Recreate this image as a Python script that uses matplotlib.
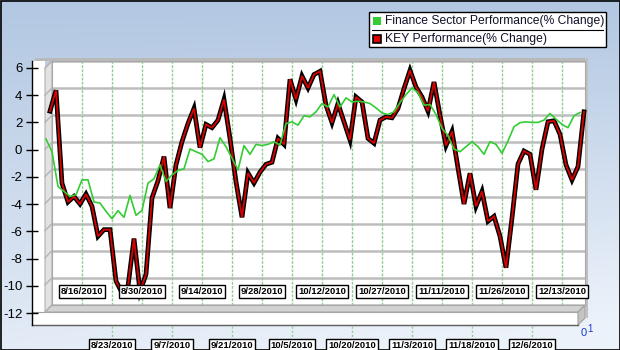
import numpy as np
import matplotlib.pyplot as plt
from matplotlib.patches import Polygon, Rectangle
import matplotlib.transforms as mtransforms

plt.rcParams['font.family'] = ['Liberation Sans', 'DejaVu Sans']
plt.rcParams['axes.unicode_minus'] = False

W, H = 620, 350

# date labels on the category axis (one every 5 points)
date_labels = ["8/16/2010", "8/23/2010", "8/30/2010", "9/7/2010", "9/14/2010",
               "9/21/2010", "9/28/2010", "10/5/2010", "10/12/2010", "10/20/2010",
               "10/27/2010", "11/3/2010", "11/11/2010", "11/18/2010", "11/26/2010",
               "12/6/2010", "12/13/2010"]
y_ticks = [6, 4, 2, 0, -2, -4, -6, -8, -10, -12]

key_perf = [2.30, 3.84, -3.01, -4.40, -3.99, -4.55, -3.82, -4.72, -6.93, -6.44,
            -6.44, -10.23, -11.1, -10.6, -7.1, -11.0, -9.74, -4.1, -2.84, -1.05,
            -4.85, -1.66, 0.05, 1.39, 2.5, -0.39, 1.32, 1.08, 1.64, 3.16,
            0.29, -2.9, -5.53, -2.27, -3.0, -2.2, -1.62, -1.47, 0.29, -0.15,
            4.65, 3.18, 4.89, 4.01, 5.0, 5.24, 2.74, 1.45, 2.86, 1.51,
            0.17, 3.35, 2.98, 0.29, -0.07, 1.64, 1.88, 1.81, 2.5, 3.96,
            5.31, 4.08, 3.35, 2.3, 4.45, 2.0, -0.24, 0.8, -1.9, -4.55,
            -2.28, -4.72, -3.62, -5.82, -5.46, -6.93, -9.25, -5.58, -1.6, -0.64,
            -0.88, -3.5, -0.5, 1.52, 1.59, 0.59, -1.66, -2.77, -1.79, 2.25]

finance_perf = [0.24, -0.69, -3.26, -3.62, -3.99, -3.87, -2.77, -2.77, -4.4, -4.48,
                -5.09, -5.63, -5.04, -5.53, -3.92, -5.38, -5.02, -3.01, -2.69, -1.66,
                -2.89, -2.4, -2.07, -1.96, -0.49, -0.69, -0.88, -1.42, -1.22, 0.34,
                -0.32, -1.17, -2.03, -0.24, -0.88, -0.15, -0.24, -0.15, 0.05, -0.2,
                1.39, 1.51, 1.27, 1.96, 1.88, 2.25, 2.86, 2.61, 3.52, 2.61,
                3.28, 2.98, 3.03, 2.98, 2.86, 2.54, 2.17, 2.05, 2.25, 2.93,
                3.52, 4.01, 3.67, 2.74, 2.79, 2.05, 1.03, 0.5, -0.5, -0.69,
                -0.32, 0.05, -0.32, -0.88, 0.05, -0.15, -0.81, 0.1, 1.15, 1.45,
                1.51, 1.47, 1.47, 1.64, 2.13, 1.71, 1.32, 1.08, 1.96, 2.2]

# layout of the fake 3D box, in pixels
WALL_L, WALL_R, WALL_T, WALL_B = 52, 585, 61, 305
DEPTH_X, DEPTH_Y = 7, 7
AXIS_X, FLOOR_FRONT = 32, 325
FIRST_X, STEP_X = 50, 6    # pixel x of first point, pixels per point
GREEN_SHIFT = -2 / 3       # front series drawn slightly left
GRID_OFFSET = 1 / 3


def fx(x):
    return x / W


def fy(y):
    return 1 - y / H


fig = plt.figure(figsize=(6.2, 3.5), dpi=100)

# background gradient and 3D decorations (pixel coordinates)
bg = fig.add_axes([0, 0, 1, 1])
t = np.linspace(0, 1, 200)[:, None]
s = np.linspace(0, 1, 300)[None, :]
mix = np.clip(0.85 * t + 0.25 * s * t, 0, 1)[..., None]
top = np.array([178, 199, 226]) / 255
bottom = np.array([236, 242, 250]) / 255
grad = top + (bottom - top) * mix
bg.imshow(grad, extent=[0, W, H, 0], aspect='auto')
bg.set_xlim(0, W)
bg.set_ylim(H, 0)
bg.axis('off')

# white frame of the box (left and bottom front faces)
bg.add_patch(Rectangle((AXIS_X, WALL_T), WALL_L - DEPTH_X - AXIS_X, FLOOR_FRONT - WALL_T,
                       fc='white', ec='none'))
bg.add_patch(Rectangle((AXIS_X, WALL_B + DEPTH_Y), WALL_R - DEPTH_X - AXIS_X,
                       FLOOR_FRONT - WALL_B - DEPTH_Y, fc='white', ec='#a0a0a0', lw=0.8))
# side wall
bg.add_patch(Polygon([(WALL_L - DEPTH_X, WALL_T + DEPTH_Y), (WALL_L, WALL_T),
                      (WALL_L, WALL_B), (WALL_L - DEPTH_X, WALL_B + DEPTH_Y)],
                     fc='#e2e2e2', ec='#b0b0b0', lw=0.8))
# floor
bg.add_patch(Polygon([(WALL_L - DEPTH_X, WALL_B + DEPTH_Y), (WALL_L, WALL_B),
                      (WALL_R, WALL_B), (WALL_R - DEPTH_X, WALL_B + DEPTH_Y)],
                     fc='#d2d2d2', ec='#a8a8a8', lw=0.8))
# right corner of floor front
bg.add_patch(Polygon([(WALL_R - DEPTH_X, WALL_B + DEPTH_Y), (WALL_R, WALL_B),
                      (WALL_R, WALL_B + 13), (WALL_R - DEPTH_X, FLOOR_FRONT)],
                     fc='#c4c4c4', ec='#a0a0a0', lw=0.8))
# top and right rims
bg.add_patch(Rectangle((35, WALL_T - 3), WALL_R - 35 + 3, 3, fc='#b9b9b9', ec='none'))
bg.add_patch(Rectangle((WALL_R, WALL_T - 3), 3, WALL_B - WALL_T + 16, fc='#c0c0c0', ec='none'))
bg.plot([AXIS_X, WALL_R - DEPTH_X], [FLOOR_FRONT, FLOOR_FRONT], color='#606060', lw=1)

# slanted grid lines on the side wall
px_per_unit = (WALL_B - WALL_T) / 18
for v in y_ticks:
    yy = WALL_T + (6 - v) * px_per_unit
    bg.plot([WALL_L - DEPTH_X, WALL_L], [yy + DEPTH_Y, yy], color='#b4b4b4', lw=1)

# legend
bg.add_patch(Rectangle((369, 12), 237, 35, fc='white', ec='black', lw=1))
bg.plot([372, 603], [29.5, 29.5], color='black', lw=0.8)
bg.add_patch(Rectangle((373, 17), 8, 8, fc='#33cc33', ec='none'))
bg.add_patch(Rectangle((373, 35), 8, 8, fc='#dd0000', ec='black', lw=1.2))
bg.text(385, 21, "Finance Sector Performance(% Change)", fontsize=8.7, va='center',
        color='#101028')
bg.text(385, 39, "KEY Performance(% Change)", fontsize=8.7, va='center', color='#101028')

# odd little marker at the bottom right corner
bg.text(581, 333, "0", fontsize=8, color='#1a3cc8', va='center')
bg.text(587, 329, "1", fontsize=7, color='#1a3cc8', va='center')

# figure border
bg.add_patch(Rectangle((0.5, 0.5), W - 1, H - 1, fc='none', ec='black', lw=1.2))

# back wall with the data
ax = fig.add_axes([fx(WALL_L), fy(WALL_B), (WALL_R - WALL_L) / W, (WALL_B - WALL_T) / H])
ax.set_facecolor('white')
x = np.arange(len(key_perf))
ax.set_xlim((WALL_L - FIRST_X) / STEP_X, (WALL_R - FIRST_X) / STEP_X)
ax.set_ylim(-12, 6)
ax.set_xticks([])
ax.set_yticks([])
for sp in ax.spines.values():
    sp.set_color('#a8a8a8')
    sp.set_linewidth(0.8)

for v in y_ticks:
    ax.axhline(v, color='#bdbdbd', lw=1.8, zorder=1)

grid_pos = [5 + GRID_OFFSET + 5 * k for k in range(len(date_labels))]
for p in grid_pos:
    ax.axvline(p, color='#8fcf8f', lw=1, ls=(0, (2, 1)), zorder=1)

ax.plot(x, key_perf, color='black', lw=3.4, zorder=3, clip_on=False,
        solid_joinstyle='miter')
ax.plot(x, key_perf, color='#dd0000', lw=1.3, zorder=4, clip_on=False,
        solid_joinstyle='miter')
ax.plot(x + GREEN_SHIFT, finance_perf, color='#33cc33', lw=1.2, zorder=5, clip_on=False)

# boxed date labels, alternating inside the wall and below the floor
trans = mtransforms.blended_transform_factory(ax.transData, ax.transAxes)
wall_h = WALL_B - WALL_T
for k, (p, lab) in enumerate(zip(grid_pos, date_labels)):
    if k % 2 == 0:
        ypos = (WALL_B - 291.5) / wall_h
    else:
        ypos = (WALL_B - 346) / wall_h
        ax.plot([p, p], [(WALL_B - FLOOR_FRONT - 1) / wall_h, (WALL_B - 338) / wall_h],
                transform=trans, color='#8fcf8f', lw=1, ls=(0, (1.5, 1.5)),
                clip_on=False)
    ax.text(p, ypos, lab, transform=trans, ha='center', va='center', fontsize=6.8,
            fontweight='bold', zorder=6, clip_on=False,
            bbox=dict(boxstyle='square,pad=0.22', fc='white', ec='black', lw=1))

# front value axis
front_top, front_bot = 68, 313
unit = (front_bot - front_top) / 18
fa = fig.add_axes([fx(AXIS_X), fy(FLOOR_FRONT), 0.5 / W, (FLOOR_FRONT - WALL_T) / H])
fa.set_ylim(-12 - (FLOOR_FRONT - front_bot) / unit, 6 + (front_top - WALL_T) / unit)
fa.patch.set_visible(False)
for name in ['top', 'right', 'bottom']:
    fa.spines[name].set_visible(False)
fa.spines['left'].set_linewidth(1)
fa.set_xticks([])
fa.set_yticks(y_ticks)
fa.set_yticklabels([str(v) for v in y_ticks])
fa.tick_params(axis='y', direction='inout', length=8, width=1, labelsize=9.5, pad=3,
               colors='black')

fig.savefig('out.png', dpi=100)
